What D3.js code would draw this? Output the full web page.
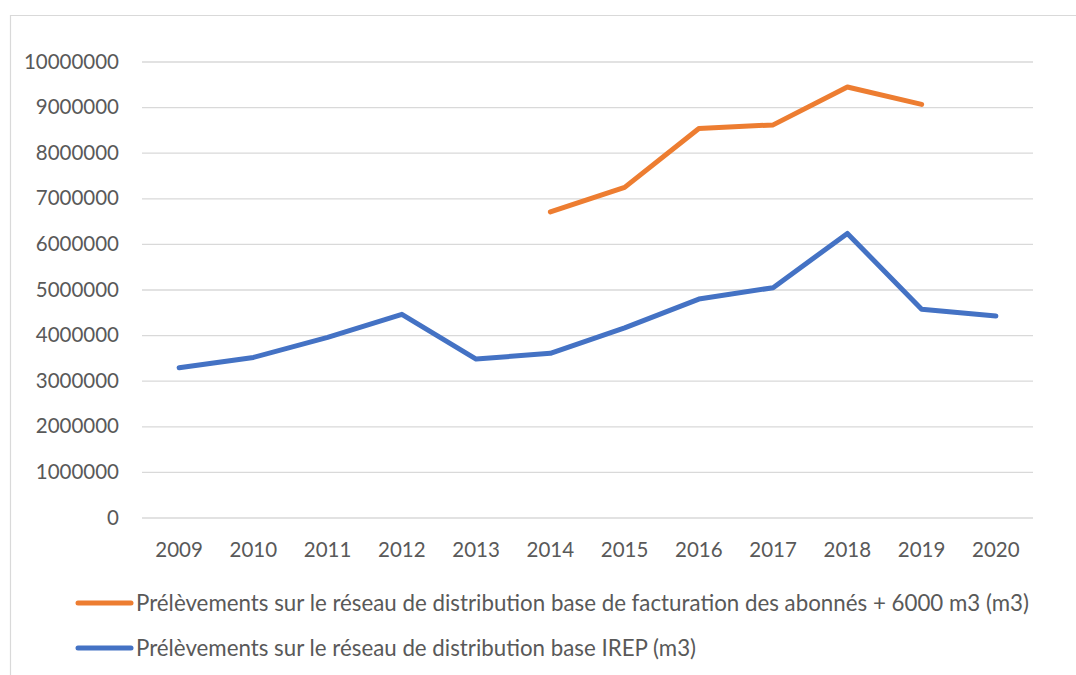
<!DOCTYPE html>
<html>
<head>
<meta charset="utf-8">
<script src="https://cdn.jsdelivr.net/npm/d3@7"></script>
<style>
  body { margin: 0; background: #fff; }
  text { font-family: Lato, "Open Sans", sans-serif; fill: #595959; }
</style>
</head>
<body>
<div id="chart"></div>
<script>
// chart data
var years = ["2009", "2010", "2011", "2012", "2013", "2014", "2015", "2016", "2017", "2018", "2019", "2020"];
var facturation = [null, null, null, null, null, 6700000, 7240000, 8530000, 8610000, 9440000, 9060000, null];
var irep = [3285000, 3510000, 3950000, 4455000, 3475000, 3600000, 4160000, 4790000, 5040000, 6230000, 4565000, 4420000];
var yTicks = [0, 1000000, 2000000, 3000000, 4000000, 5000000, 6000000, 7000000, 8000000, 9000000, 10000000];
var seriesNames = [
  "Prélèvements sur le réseau de distribution base de facturation des abonnés + 6000 m3 (m3)",
  "Prélèvements sur le réseau de distribution base IREP (m3)"
];
var seriesColors = ["#ED7D31", "#4472C4"];

var width = 1076, height = 675;
var plotLeft = 142, plotRight = 1033, plotTop = 61.5, plotBottom = 517.5;

var svg = d3.select("#chart").append("svg").attr("width", width).attr("height", height);

// frame
svg.append("path")
  .attr("d", "M10.5," + height + "V15.5H" + width)
  .attr("fill", "none").attr("stroke", "#d9d9d9").attr("stroke-width", 1.2);

var x = d3.scaleBand().domain(years).range([plotLeft, plotRight]);
var y = d3.scaleLinear().domain([0, 10000000]).range([plotBottom, plotTop]);

// gridlines + y labels
var yAxis = d3.axisLeft(y).tickValues(yTicks).tickSize(-(plotRight - plotLeft)).tickPadding(23).tickFormat(d3.format("d"));
var gy = svg.append("g").attr("transform", "translate(" + plotLeft + ",0)").call(yAxis);
gy.select(".domain").remove();
gy.selectAll(".tick line").attr("stroke", "#d9d9d9").attr("stroke-width", 1.3);
gy.selectAll(".tick text").attr("font-size", 20.5).attr("fill", "#595959").attr("font-family", "Lato");

// x labels
var xAxis = d3.axisBottom(x).tickSize(0).tickPadding(25);
var gx = svg.append("g").attr("transform", "translate(0," + plotBottom + ")").call(xAxis);
gx.select(".domain").remove();
gx.selectAll(".tick text").attr("font-size", 20.5).attr("fill", "#595959").attr("font-family", "Lato");

var line = d3.line()
  .defined(function(d) { return d.v != null; })
  .x(function(d) { return x(d.year) + x.bandwidth() / 2; })
  .y(function(d) { return y(d.v); });

[facturation, irep].forEach(function(vals, i) {
  var pts = years.map(function(yr, j) { return { year: yr, v: vals[j] }; });
  svg.append("path").attr("d", line(pts))
    .attr("fill", "none").attr("stroke", seriesColors[i])
    .attr("stroke-width", 5).attr("stroke-linecap", "round").attr("stroke-linejoin", "round");
});

// legend
var legendY = [603, 648];
seriesNames.forEach(function(name, i) {
  svg.append("line").attr("x1", 78).attr("x2", 131).attr("y1", legendY[i]).attr("y2", legendY[i])
    .attr("stroke", seriesColors[i]).attr("stroke-width", 5).attr("stroke-linecap", "round");
  var t = svg.append("text").attr("x", 136).attr("y", legendY[i]).attr("dy", "0.35em")
    .attr("font-size", 22.3).text(name);
  if (i == 0) t.attr("textLength", 893).attr("lengthAdjust", "spacingAndGlyphs");
});
</script>
</body>
</html>
